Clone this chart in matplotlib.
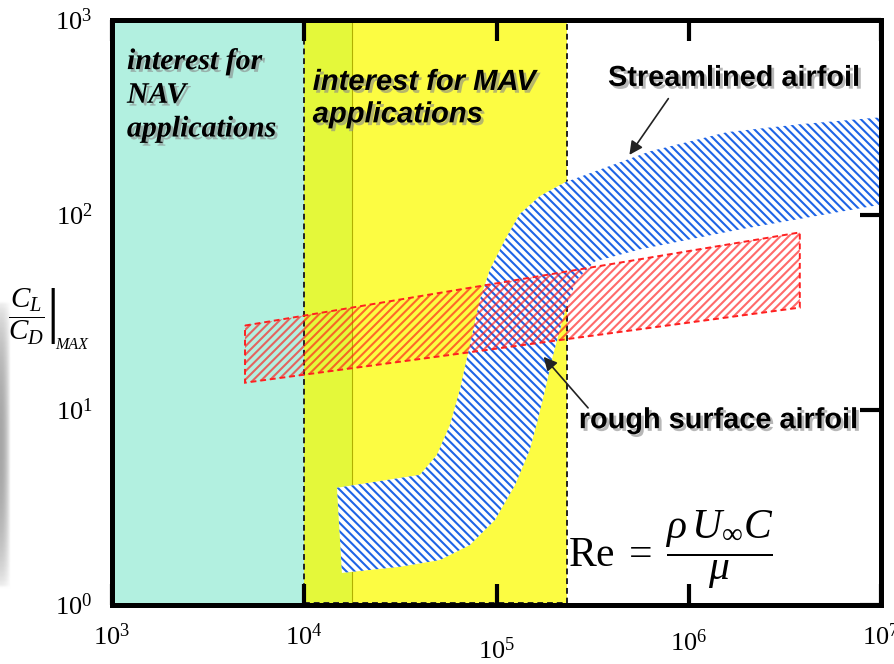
import matplotlib
matplotlib.use('Agg')
import matplotlib.pyplot as plt
import matplotlib.patheffects as pe
from matplotlib.patches import Polygon, Rectangle
from matplotlib.ticker import NullLocator
import numpy as np

plt.rcParams['mathtext.fontset'] = 'custom'
plt.rcParams['mathtext.rm'] = 'Liberation Serif'
plt.rcParams['mathtext.it'] = 'Liberation Serif:italic'
plt.rcParams['mathtext.bf'] = 'Liberation Serif:bold'
plt.rcParams['hatch.linewidth'] = 1.5

# Reynolds number ranges
nav_range = [1e3, 1e4]
mav_range = [1e4, 2.32e5]
mav_low_edge = 1.77e4

# streamlined airfoil band, upper and lower boundary
stream_top_re = [1.48e4, 4.0e4, 4.9e4, 5.73e4, 6.45e4, 7.27e4, 8.2e4, 9.25e4, 1.11e5,
                 1.32e5, 1.68e5, 2.27e5, 3.45e5, 6.28e5, 1.58e6, 3.78e6, 1e7]
stream_top_ld = [3.99, 4.65, 5.89, 8.4, 12.7, 21.6, 36.9, 52.6, 75.0,
                 101, 125, 147, 171, 212, 266, 292, 317]
stream_bot_re = [1.57e4, 3.15e4, 5.08e4, 7.27e4, 9.82e4, 1.25e5, 1.49e5, 1.64e5, 1.79e5,
                 1.96e5, 2.14e5, 2.32e5, 2.62e5, 3.25e5, 5.57e5, 1.84e6, 1e7]
stream_bot_ld = [1.46, 1.57, 1.70, 2.03, 2.73, 4.13, 6.25, 8.92, 12.7,
                 18.8, 25.9, 34.7, 46.7, 57.8, 66.6, 84.3, 113]

# rough surface airfoil band corners
rough_re = [4.92e3, 3.78e6, 3.78e6, 4.92e3]
rough_ld = [27.1, 81.4, 33.5, 13.8]

xticks = [1e3, 1e4, 1e5, 1e6, 1e7]
xlabels = [r'$10^{3}$', r'$10^{4}$', r'$10^{5}$', r'$10^{6}$', r'$10^{7}$']
yticks = [1, 10, 100, 1000]
ylabels = [r'$10^{0}$', r'$10^{1}$', r'$10^{2}$', r'$10^{3}$']

fig = plt.figure(figsize=(8.95, 6.64), dpi=100)
ax = fig.add_axes([0.1251, 0.0889, 0.8593, 0.881])
ax.set_xscale('log')
ax.set_yscale('log')
ax.set_xlim(1e3, 1e7)
ax.set_ylim(1, 1000)

# shaded application ranges
ax.axvspan(nav_range[0], nav_range[1], color='#b2f0e0', lw=0, zorder=0.5)
ax.axvspan(mav_range[0], mav_low_edge, color='#e4f83a', lw=0, zorder=0.5)
ax.axvspan(mav_low_edge, mav_range[1], color='#fcfc42', lw=0, zorder=0.5)
ax.axvline(mav_low_edge, color='#b0b000', lw=0.8, zorder=0.6)
ax.add_patch(Rectangle((mav_range[0], 1.02), mav_range[1] - mav_range[0], 1000,
                       fill=False, ec='#222222', lw=1.4, ls=(0, (3, 2)), zorder=0.7))

# streamlined airfoil
verts = list(zip(stream_top_re, stream_top_ld)) + list(zip(stream_bot_re, stream_bot_ld))[::-1]
ax.add_patch(Polygon(verts, closed=True, fc='white', ec='#1e64e6', lw=0,
                     hatch='\\' * 4, zorder=2))

# rough surface airfoil
rverts = list(zip(rough_re, rough_ld))
ax.add_patch(Polygon(rverts, closed=True, fc='none', ec=(1, 0.1, 0.1, 0.65), lw=0,
                     hatch='/' * 4, zorder=2.1))
ax.add_patch(Polygon(rverts, closed=True, fill=False, ec='#ff2020', lw=1.4,
                     ls=(0, (3, 2)), zorder=2.2))

# axes styling
for s in ax.spines.values():
    s.set_linewidth(3.6)
ax.xaxis.set_minor_locator(NullLocator())
ax.yaxis.set_minor_locator(NullLocator())
ax.set_xticks(xticks)
ax.set_xticklabels(xlabels, fontsize=19)
ax.set_yticks(yticks)
ax.set_yticklabels(ylabels, fontsize=19)
ax.tick_params(axis='x', which='major', direction='in', length=15, width=3,
               top=True, bottom=True, pad=14)
ax.tick_params(axis='y', which='major', direction='in', length=15, width=3,
               left=False, right=True, labelleft=True, pad=14)
xt = ax.xaxis.get_major_ticks()
xt[2].set_pad(24)
xt[3].set_pad(18)

shadow = [pe.SimplePatchShadow(offset=(2, -2), shadow_rgbFace='#888888', alpha=0.6), pe.Normal()]

ax.text(0.0195, 0.952, 'interest for\nNAV\napplications', transform=ax.transAxes,
        family='Liberation Serif', style='italic', weight='bold', fontsize=21.5,
        ha='left', va='top', linespacing=1.32, path_effects=shadow, zorder=4)
ax.text(0.261, 0.918, 'interest for MAV\napplications', transform=ax.transAxes,
        family='Liberation Sans', style='italic', weight='bold', fontsize=21,
        ha='left', va='top', linespacing=1.2, path_effects=shadow, zorder=4)
ax.text(0.645, 0.901, 'Streamlined airfoil', transform=ax.transAxes,
        family='Liberation Sans', weight='bold', fontsize=20.8,
        ha='left', va='center', path_effects=shadow, zorder=4)
ax.text(0.607, 0.316, 'rough surface airfoil', transform=ax.transAxes,
        family='Liberation Sans', weight='bold', fontsize=20.8,
        ha='left', va='center', path_effects=shadow, zorder=4)
ax.text(0.727, 0.094, r'$\mathrm{Re}\;=\;\dfrac{\rho\,U_{\infty}C}{\mu}$', transform=ax.transAxes,
        fontsize=30, ha='center', va='center', zorder=4)

ax.annotate('', xy=(4.82e5, 198), xytext=(7.98e5, 406),
            arrowprops=dict(arrowstyle='-|>', color='#222222', lw=1.2, mutation_scale=20),
            zorder=4)
ax.annotate('', xy=(1.72e5, 19.2), xytext=(3.06e5, 10.0),
            arrowprops=dict(arrowstyle='-|>', color='#222222', lw=1.2, mutation_scale=20),
            zorder=4)

# y-axis label: max lift-to-drag ratio
fig.text(0.036, 0.524, r'$\left.\dfrac{C_L}{C_D}\right|$', fontsize=21,
         ha='center', va='center')
fig.text(0.0615, 0.468, 'MAX', family='Liberation Serif', style='italic', fontsize=11.5,
         ha='left', va='bottom')

# gray shading on the left margin
hz = fig.add_axes([0, 0.11, 0.012, 0.44])
gx = np.linspace(0, 1, 20)
gy = np.sin(np.linspace(0, np.pi, 60)) ** 0.5
shade = 1 - 0.35 * np.outer(gy, 1 - gx ** 2)
hz.imshow(shade, cmap='gray', vmin=0, vmax=1, aspect='auto')
hz.axis('off')

fig.savefig('out.png', dpi=100)
